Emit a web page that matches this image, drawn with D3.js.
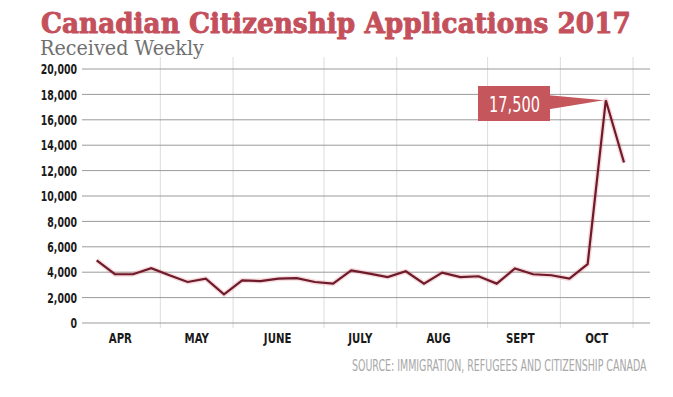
<!DOCTYPE html>
<html>
<head>
<meta charset="utf-8">
<script src="https://cdn.jsdelivr.net/npm/d3@7"></script>
<style>
  html, body { margin: 0; padding: 0; background: #fff; }
  svg { display: block; }
</style>
</head>
<body>
<svg id="chart" width="673" height="397"></svg>
<script>
// ---- data ----
const weeks = d3.range(30); // week index, early April to late October 2017
const applications = [4900, 3800, 3800, 4270, 3720, 3190, 3450, 2210, 3320, 3260,
                      3450, 3500, 3190, 3060, 4110, 3850, 3580, 4030, 3060, 3930,
                      3580, 3640, 3060, 4250, 3800, 3720, 3450, 4590, 17500, 12600];
const months = ["APR", "MAY", "JUNE", "JULY", "AUG", "SEPT", "OCT"];
const monthCenters = [1.3, 5.5, 9.95, 14.5, 18.8, 23.3, 27.5];   // in week units
const monthBounds = [3.5, 7.5, 12.5, 16.5, 21.5, 25.5, 29.5];    // in week units
const yTicks = [0, 2000, 4000, 6000, 8000, 10000, 12000, 14000, 16000, 18000, 20000];
const peakLabel = "17,500";
const title = "Canadian Citizenship Applications 2017";
const subtitle = "Received Weekly";
const source = "SOURCE: IMMIGRATION, REFUGEES AND CITIZENSHIP CANADA";

// ---- layout ----
const svg = d3.select("#chart");
const plotL = 82, plotR = 650, plotT = 68.5, plotB = 322.5;
const x = d3.scaleLinear().domain([0, 29]).range([96.7, 624]);
const y = d3.scaleLinear().domain([0, 20000]).range([plotB, plotT]);

const condensed = "'DejaVu Sans Condensed', 'DejaVu Sans', sans-serif";

function squeeze(sel, factor) {
  sel.each(function () {
    const w = this.getComputedTextLength();
    d3.select(this).attr("textLength", w * factor).attr("lengthAdjust", "spacingAndGlyphs");
  });
}

// text fitted to a width by shrinking the font and stretching it vertically
function fitText(g, str, x0, y0, size, width, attrs) {
  const t = g.append("text").attr("font-size", size);
  Object.entries(attrs).forEach(([k, v]) => t.attr(k, v));
  t.text(str);
  const w = t.node().getComputedTextLength();
  const r = width / w;
  t.attr("font-size", size * r)
   .attr("transform", `translate(${x0},${y0}) scale(1,${1 / r})`);
  return t;
}

// title
fitText(svg, title, 41, 33, 27, 590, {
  "font-family": "'DejaVu Serif', serif", "font-weight": "bold",
  "fill": "#c4505c", "stroke": "#c4505c", "stroke-width": 0.9, "stroke-linejoin": "round"
});

fitText(svg, subtitle, 40, 55, 19.5, 164, {
  "font-family": "'DejaVu Serif', serif", "fill": "#707070"
});

// vertical gridlines (month boundaries)
svg.append("g").selectAll("line").data(monthBounds).join("line")
  .attr("x1", d => x(d)).attr("x2", d => x(d))
  .attr("y1", 57).attr("y2", 328)
  .attr("stroke", "#dcdcdc").attr("stroke-width", 1);

// horizontal gridlines + tick labels via axis
const yAxis = d3.axisLeft(y).tickValues(yTicks).tickFormat(d3.format(","))
  .tickSize(-(plotR - plotL)).tickPadding(5);
const gy = svg.append("g").attr("transform", `translate(${plotL},0)`).call(yAxis);
gy.select(".domain").remove();
gy.selectAll(".tick line").attr("stroke", "#9a9a9a").attr("stroke-width", 1);
gy.selectAll(".tick text")
  .attr("font-family", condensed).attr("font-weight", "bold")
  .attr("font-size", 14.5).attr("fill", "#1a1a1a").attr("dy", "0.36em")
  .call(squeeze, 0.72);

// month labels
svg.append("g").selectAll("text").data(months).join("text")
  .attr("x", (d, i) => x(monthCenters[i])).attr("y", 343)
  .attr("text-anchor", "middle")
  .attr("font-family", condensed).attr("font-weight", "bold")
  .attr("font-size", 14.5).attr("fill", "#1a1a1a")
  .text(d => d)
  .call(squeeze, 0.78);

// line
const line = d3.line().x((d, i) => x(weeks[i])).y(d => y(d));
svg.append("path").datum(applications)
  .attr("d", line).attr("fill", "none")
  .attr("stroke", "rgba(215,90,95,0.22)").attr("stroke-width", 5)
  .attr("stroke-linejoin", "round");
svg.append("path").datum(applications)
  .attr("d", line).attr("fill", "none")
  .attr("stroke", "#6e1a2b").attr("stroke-width", 2.2)
  .attr("stroke-linejoin", "miter");

// annotation
const peakIdx = applications.indexOf(d3.max(applications));
const px = x(weeks[peakIdx]), py = y(applications[peakIdx]);
const boxX = 478, boxW = 72, boxY = 86, boxH = 35;
const ann = svg.append("g");
ann.append("path")
  .attr("d", `M${boxX + boxW - 1},${py - 5} L${px - 2},${py} L${boxX + boxW - 1},${py + 9} Z`)
  .attr("fill", "#c4565c");
ann.append("rect")
  .attr("x", boxX).attr("y", boxY).attr("width", boxW).attr("height", boxH)
  .attr("fill", "#c4565c");
fitText(ann, peakLabel, boxX + 11, 112, 22, 51, {
  "font-family": condensed, "fill": "#fff"
});

// source
fitText(svg, source, 352, 371, 15, 295, {
  "font-family": condensed, "fill": "#a8a8a8"
});
</script>
</body>
</html>
